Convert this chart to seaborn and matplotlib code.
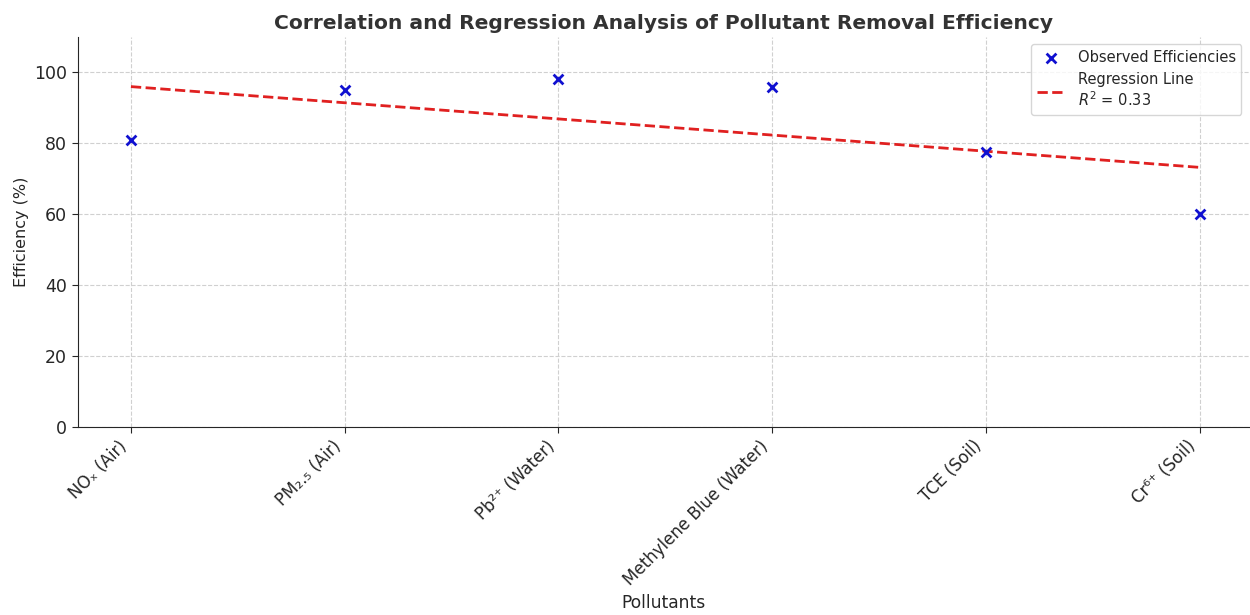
import numpy as np
import pandas as pd
import seaborn as sns
import matplotlib.pyplot as plt

# Data
pollutants = ["NOₓ (Air)", "PM₂.₅ (Air)", "Pb²⁺ (Water)",
              "Methylene Blue (Water)", "TCE (Soil)", "Cr⁶⁺ (Soil)"]
efficiency = [81, 95, 98, 96, 77.5, 60]

df = pd.DataFrame({"idx": np.arange(len(pollutants)),
                   "Pollutant": pollutants,
                   "Efficiency": efficiency})

# R^2 of the linear fit
slope, intercept = np.polyfit(df["idx"], df["Efficiency"], 1)
pred = slope * df["idx"] + intercept
ss_res = ((df["Efficiency"] - pred) ** 2).sum()
ss_tot = ((df["Efficiency"] - df["Efficiency"].mean()) ** 2).sum()
r2 = 1 - ss_res / ss_tot

sns.set_style("ticks", {"axes.grid": True, "grid.linestyle": "--",
                        "grid.color": "#d0d0d0"})
plt.rcParams["font.family"] = ["DejaVu Sans"]

fig, ax = plt.subplots(figsize=(12.5, 6.15), dpi=100)
fig.subplots_adjust(left=0.062, right=0.999, top=0.94, bottom=0.306)

sns.scatterplot(data=df, x="idx", y="Efficiency", ax=ax, marker="x",
                color="#1010d0", s=50, linewidth=2,
                label="Observed Efficiencies", zorder=3)
sns.regplot(data=df, x="idx", y="Efficiency", ax=ax, scatter=False, ci=None,
            label=f"Regression Line\n$R^2$ = {r2:.2f}",
            line_kws={"color": "#e02020", "linestyle": "--", "linewidth": 2})

ax.set_xticks(df["idx"])
ax.set_xticklabels(pollutants, rotation=45, ha="right", fontsize=12)
ax.tick_params(axis="y", labelsize=12.5)
ax.tick_params(axis="both", length=4)
ax.set_xlim(-0.25, 5.23)
ax.set_ylim(0, 110)
ax.grid(True, linestyle="--", color="#d0d0d0", linewidth=0.8)
sns.despine(ax=ax)

ax.set_title("Correlation and Regression Analysis of Pollutant Removal Efficiency",
             fontsize=14.6, fontweight="bold", color="#333333")
ax.set_xlabel("Pollutants", fontsize=12.3)
ax.set_ylabel("Efficiency (%)", fontsize=11.5)
ax.legend(loc="upper right", fontsize=10.5)

fig.savefig("out.png", dpi=100)
